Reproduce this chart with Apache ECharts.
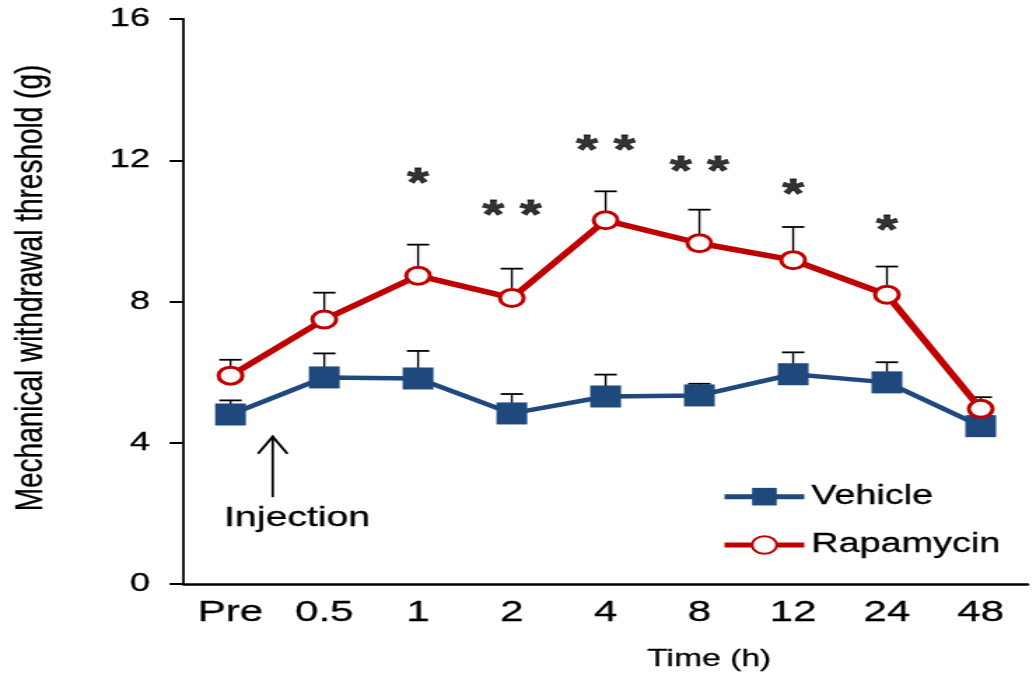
<!DOCTYPE html>
<html>
<head>
<meta charset="utf-8">
<script src="https://cdn.jsdelivr.net/npm/echarts@6/dist/echarts.min.js"></script>
<style>
  html, body { margin: 0; padding: 0; background: #fff; overflow: hidden; }
  /* the source figure is stretched sideways, so draw it narrow and stretch it */
  #main { width: 738px; height: 686px; transform: scaleX(1.4); transform-origin: 0 0; }
</style>
</head>
<body>
<div id="main"></div>
<script>
// data
const times = ['Pre', '0.5', '1', '2', '4', '8', '12', '24', '48'];
const yTicks = [0, 4, 8, 12, 16];

const vehicleMean = [4.8, 5.85, 5.82, 4.83, 5.31, 5.34, 5.94, 5.71, 4.47];
const vehicleSem = [0.4, 0.68, 0.78, 0.55, 0.62, 0.33, 0.62, 0.57, 0.3];

const rapaMean = [5.9, 7.49, 8.73, 8.1, 10.3, 9.65, 9.17, 8.19, 4.96];
const rapaSem = [0.45, 0.76, 0.88, 0.83, 0.82, 0.95, 0.94, 0.8, 0.33];

// significance marks (text + height where they sit)
const stars = ['', '', '*', '* *', '* *', '* *', '*', '*', ''];
const starY = [null, null, 11.56, 10.66, 12.49, 11.9, 11.25, 10.23, null];

// injection arrow (position between Pre and 0.5)
const arrowAt = 0.45, arrowTip = 4.2, arrowTail = 2.46;
const injLabelAt = 0.71, injLabelY = 1.85;

const font = '"Liberation Sans", Arial, sans-serif';
const blue = '#1F497D';
const red = '#C00000';
const ink = '#000';
// the source text is a little heavier than a plain render
const thick = { textBorderColor: ink, textBorderWidth: 0.3 };

let dom = document.getElementById('main');
let myChart = echarts.init(dom);

// upper-only error bars
const errorBars = (means, sems) => ({
  type: 'custom',
  z: 1,
  silent: true,
  data: means.map((m, i) => [i, m, m + sems[i]]),
  encode: { x: 0, y: [1, 2] },
  renderItem: (params, api) => {
    const base = api.coord([api.value(0), api.value(1)]);
    const top = api.coord([api.value(0), api.value(2)]);
    return {
      type: 'group',
      children: [
        { type: 'line', shape: { x1: base[0], y1: base[1], x2: top[0], y2: top[1] }, style: { stroke: '#000', lineWidth: 1.4 } },
        { type: 'line', shape: { x1: top[0] - 8, y1: top[1], x2: top[0] + 8, y2: top[1] }, style: { stroke: '#000', lineWidth: 1.8 } }
      ]
    };
  }
});

let option = {
  animation: false,
  grid: { left: 129, right: 4, top: 19, bottom: 102 },
  legend: {
    data: ['Vehicle', 'Rapamycin'],
    orient: 'vertical',
    left: 510,
    top: 478,
    itemWidth: 57,
    itemHeight: 22,
    itemGap: 21,
    lineStyle: { width: 5 },
    textStyle: Object.assign({ fontSize: 27, fontFamily: font, color: ink }, thick)
  },
  xAxis: {
    type: 'category',
    data: times,
    boundaryGap: true,
    axisLine: { lineStyle: { color: '#000', width: 2.5 } },
    axisTick: { alignWithLabel: true, interval: 0, length: 8, lineStyle: { color: '#000', width: 1.6 } },
    axisLabel: Object.assign({ interval: 0, fontSize: 30, fontFamily: font, color: ink, margin: 14 }, thick),
    name: 'Time (h)',
    nameLocation: 'middle',
    nameGap: 63,
    nameTextStyle: Object.assign({ fontSize: 24, fontFamily: font, color: ink, padding: [0, 0, 0, 148] }, thick)
  },
  yAxis: {
    type: 'value',
    min: yTicks[0],
    max: yTicks[yTicks.length - 1],
    interval: yTicks[1] - yTicks[0],
    axisLine: { show: true, lineStyle: { color: '#000', width: 1.8 } },
    axisTick: { show: true, length: 10, lineStyle: { color: '#000', width: 2 } },
    splitLine: { show: false },
    axisLabel: Object.assign({ fontSize: 26, fontFamily: font, color: ink, margin: 24 }, thick),
    name: 'Mechanical withdrawal threshold (g)',
    nameLocation: 'middle',
    nameRotate: 90,
    nameGap: 95,
    nameTextStyle: Object.assign({ fontSize: 28, fontFamily: font, color: ink, padding: [0, 0, 0, 27] }, thick)
  },
  series: [
    errorBars(vehicleMean, vehicleSem),
    errorBars(rapaMean, rapaSem),
    {
      name: 'Vehicle',
      type: 'line',
      z: 3,
      data: vehicleMean,
      symbol: 'rect',
      symbolSize: 22,
      lineStyle: { color: blue, width: 4.5 },
      itemStyle: { color: blue }
    },
    {
      name: 'Rapamycin',
      type: 'line',
      z: 4,
      data: rapaMean,
      symbol: 'circle',
      symbolSize: 17,
      lineStyle: { color: red, width: 5.5 },
      itemStyle: { color: '#fff', borderColor: red, borderWidth: 3 }
    },
    {
      // asterisks
      type: 'scatter',
      z: 5,
      silent: true,
      symbolSize: 0,
      data: starY.map((v, i) => [i, v]).filter(d => d[1] !== null),
      label: {
        show: true,
        position: 'inside',
        offset: [0, 9],
        formatter: p => stars[p.value[0]],
        fontSize: 40,
        fontWeight: 'bold',
        fontFamily: font,
        color: ink,
        textBorderColor: ink,
        textBorderWidth: 0.8
      }
    }
  ]
};
myChart.setOption(option);

// injection arrow, placed from the axes
const at = (pos, val) => {
  const a = myChart.convertToPixel({ xAxisIndex: 0, yAxisIndex: 0 }, [0, val]);
  const b = myChart.convertToPixel({ xAxisIndex: 0, yAxisIndex: 0 }, [1, val]);
  return [a[0] + (b[0] - a[0]) * pos, a[1]];
};
const tip = at(arrowAt, arrowTip);
const tail = at(arrowAt, arrowTail);
const lbl = at(injLabelAt, injLabelY);
myChart.setOption({
  graphic: [
    { type: 'line', shape: { x1: tip[0], y1: tip[1], x2: tail[0], y2: tail[1] }, style: { stroke: '#000', lineWidth: 1.8 } },
    { type: 'polyline', shape: { points: [[tip[0] - 10.5, tip[1] + 18], [tip[0], tip[1] + 1], [tip[0] + 10.5, tip[1] + 18]] }, style: { stroke: '#000', lineWidth: 2, fill: null } },
    { type: 'text', x: lbl[0], y: lbl[1], style: { text: 'Injection', font: '28px ' + font, fill: ink, stroke: ink, lineWidth: 0.3, align: 'center', verticalAlign: 'middle' } }
  ]
});
</script>
</body>
</html>
